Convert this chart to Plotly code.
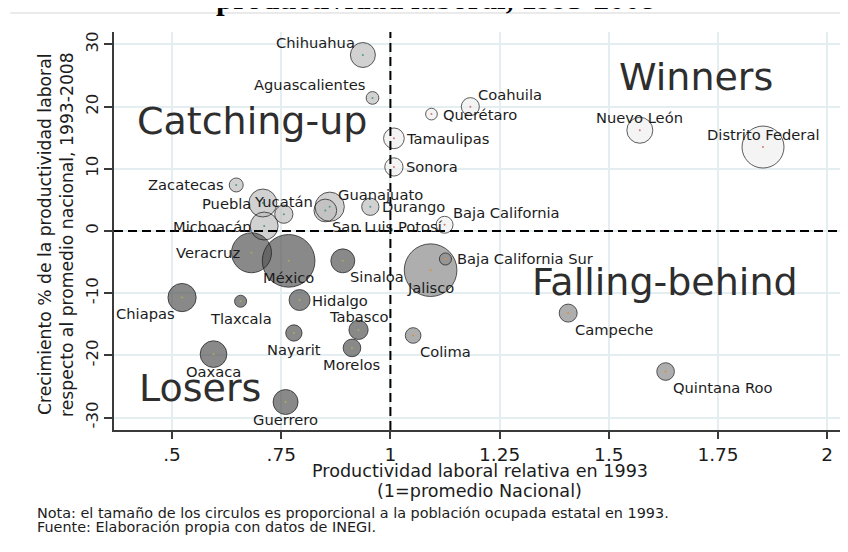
import plotly.graph_objects as go

# ---------------- data ----------------
estados = [
    "Aguascalientes", "Baja California", "Baja California Sur", "Campeche",
    "Coahuila", "Colima", "Chiapas", "Chihuahua", "Distrito Federal",
    "Durango", "Guanajuato", "Guerrero", "Hidalgo", "Jalisco", "México",
    "Michoacán", "Morelos", "Nayarit", "Nuevo León", "Oaxaca", "Puebla",
    "Querétaro", "Quintana Roo", "San Luis Potosí", "Sinaloa", "Sonora",
    "Tabasco", "Tamaulipas", "Tlaxcala", "Veracruz", "Yucatán", "Zacatecas",
]
prod_rel_1993 = [
    0.959, 1.124, 1.126, 1.407, 1.183, 1.052, 0.523, 0.937, 1.853,
    0.954, 0.861, 0.760, 0.792, 1.092, 0.767, 0.711, 0.912, 0.779,
    1.571, 0.595, 0.708, 1.094, 1.630, 0.851, 0.891, 1.008, 0.927,
    1.008, 0.657, 0.682, 0.756, 0.647,
]
crec_rel = [
    21.4, 1.0, -4.5, -13.2, 20.0, -16.8, -10.7, 28.3, 13.5,
    3.9, 3.9, -27.5, -11.1, -6.3, -4.8, 0.8, -18.8, -16.4,
    16.2, -19.8, 4.5, 18.8, -22.6, 3.3, -4.8, 10.3, -15.9,
    14.9, -11.3, -3.5, 2.7, 7.4,
]
# población ocupada 1993 (miles, estimada del tamaño de los círculos)
pob_ocupada = [
    195, 345, 175, 390, 390, 295, 960, 750, 2115,
    360, 1030, 750, 530, 3330, 3330, 940, 375, 320,
    810, 855, 940, 165, 375, 620, 690, 400, 445,
    515, 175, 1920, 400, 235,
]
# posición de la etiqueta (reloj, como en Stata)
pos_etiqueta = [
    11, 1, 3, 5, 1, 5, 7, 11, 12,
    3, 1, 6, 3, 6, 6, 9, 6, 6,
    12, 6, 9, 3, 5, 5, 5, 3, 12,
    3, 6, 9, 12, 9,
]

x_ticks = [0.5, 0.75, 1, 1.25, 1.5, 1.75, 2]
x_ticktext = [".5", ".75", "1", "1.25", "1.5", "1.75", "2"]
y_ticks = [-30, -20, -10, 0, 10, 20, 30]
y_ticktext = ["-30", "-20", "-10", "0", "10", "20", "30"]

cuadrantes = ["Winners", "Catching-up", "Falling-behind", "Losers"]

# ---------------- styling ----------------
FONT = "DejaVu Sans"
TXT = "#1c1c1c"


def color_cuadrante(x, y):
    if x >= 1 and y >= 0:
        return "#f0f0f0"
    if x < 1 and y >= 0:
        return "#bdbdbd"
    if x < 1 and y < 0:
        return "#575757"
    return "#8b8b8b"


fill_colors = [color_cuadrante(x, y) for x, y in zip(prod_rel_1993, crec_rel)]
dot_colors = []
for x, y in zip(prod_rel_1993, crec_rel):
    if x >= 1 and y >= 0:
        dot_colors.append("#d9776f")
    elif x < 1 and y >= 0:
        dot_colors.append("#4f9a8c")
    elif x < 1 and y < 0:
        dot_colors.append("#b0a85a")
    else:
        dot_colors.append("#d9913a")

SIZEREF = 2.4

fig = go.Figure()
# fills
fig.add_trace(go.Scatter(
    x=prod_rel_1993, y=crec_rel, mode="markers",
    marker=dict(size=pob_ocupada, sizemode="area", sizeref=SIZEREF,
                color=fill_colors, line=dict(width=0)),
    hoverinfo="skip",
))
# outlines (drawn after all fills so overlapping edges stay visible)
fig.add_trace(go.Scatter(
    x=prod_rel_1993, y=crec_rel, mode="markers",
    marker=dict(size=pob_ocupada, sizemode="area", sizeref=SIZEREF,
                color="rgba(0,0,0,0)", line=dict(width=1, color="#1a1a1a")),
    text=estados, hoverinfo="text",
))
# tiny centre points
fig.add_trace(go.Scatter(
    x=prod_rel_1993, y=crec_rel, mode="markers",
    marker=dict(size=2, color=dot_colors),
    hoverinfo="skip",
))

pos_map = {
    3: ("left", 10, 0),
    9: ("right", -10, 0),
    12: ("center", 0, 13),
    6: ("center", 0, -17),
    11: ("right", -6, 13),
    1: ("left", 6, 12),
    5: ("left", 5, -16),
    7: ("right", -5, -16),
}

annotations = []
for name, x, y, p in zip(estados, prod_rel_1993, crec_rel, pos_etiqueta):
    xa, dx, dy = pos_map[p]
    annotations.append(dict(
        x=x, y=y, xref="x", yref="y", text=name, showarrow=False,
        xanchor=xa, yanchor="middle", xshift=dx, yshift=dy,
        font=dict(family=FONT, size=14.7, color=TXT),
    ))

# quadrant labels
quad_pos = [(1.70, 24.7), (0.684, 17.7), (1.628, -8.25), (0.565, -25.3)]
for lab, (qx, qy) in zip(cuadrantes, quad_pos):
    annotations.append(dict(
        x=qx, y=qy, xref="x", yref="y", text=lab, showarrow=False,
        xanchor="center", yanchor="middle",
        font=dict(family=FONT, size=38, color="#2e2e2e"),
    ))

# title (cut at the top of the image)
annotations.append(dict(
    x=0.4405, y=1.0342, xref="paper", yref="paper",
    text="<b>productividad laboral, 1993-2008</b>", showarrow=False,
    xanchor="center", yanchor="bottom",
    font=dict(family="Liberation Serif", size=31, color="#000000"),
))

# axis titles
annotations.append(dict(
    x=0, y=0.5, xref="paper", yref="paper",
    text="Crecimiento % de la productividad laboral", showarrow=False,
    textangle=-90, xanchor="center", yanchor="middle",
    xshift=-69, yshift=-4,
    font=dict(family=FONT, size=17.2, color=TXT),
))
annotations.append(dict(
    x=0, y=0.5, xref="paper", yref="paper",
    text="respecto al promedio nacional, 1993-2008", showarrow=False,
    textangle=-90, xanchor="center", yanchor="middle",
    xshift=-47, yshift=-4,
    font=dict(family=FONT, size=17.2, color=TXT),
))
annotations.append(dict(
    x=0.5, y=0, xref="paper", yref="paper",
    text="Productividad laboral relativa en 1993", showarrow=False,
    xanchor="center", yanchor="middle", yshift=-41,
    font=dict(family=FONT, size=17.6, color=TXT),
))
annotations.append(dict(
    x=0.5, y=0, xref="paper", yref="paper",
    text="(1=promedio Nacional)", showarrow=False,
    xanchor="center", yanchor="middle", yshift=-61,
    font=dict(family=FONT, size=17.6, color=TXT),
))
# notes
annotations.append(dict(
    x=-0.108, y=0, xref="paper", yref="paper",
    text="Nota: el tamaño de los circulos es proporcional a la población ocupada estatal en 1993.",
    showarrow=False, xanchor="left", yanchor="middle", yshift=-83,
    font=dict(family=FONT, size=14.4, color=TXT),
))
annotations.append(dict(
    x=-0.108, y=0, xref="paper", yref="paper",
    text="Fuente: Elaboración propia con datos de INEGI.",
    showarrow=False, xanchor="left", yanchor="middle", yshift=-97,
    font=dict(family=FONT, size=14.4, color=TXT),
))

shapes = [
    dict(type="line", xref="x", yref="paper", x0=1, x1=1, y0=0, y1=1,
         line=dict(color="#000000", width=2, dash="9px,5px"), layer="above"),
    dict(type="line", xref="paper", yref="y", x0=0, x1=1, y0=0, y1=0,
         line=dict(color="#000000", width=2, dash="9px,5px"), layer="above"),
    dict(type="line", xref="paper", yref="paper", x0=-0.142, x1=1.02,
         y0=1.0477, y1=1.0477, line=dict(color="#e3e3e3", width=1.5)),
]

# the page adds an 8px body margin, so the plot area is placed 8px up/left
fig.update_layout(
    width=848, height=552,
    margin=dict(l=106, r=11, t=24, b=130),
    paper_bgcolor="white", plot_bgcolor="white",
    showlegend=False,
    annotations=annotations, shapes=shapes,
    xaxis=dict(
        range=[0.3672, 2.0407], tickvals=x_ticks, ticktext=x_ticktext,
        showgrid=True, gridcolor="#e4edf0", gridwidth=1.5, zeroline=False,
        showline=True, linecolor="#3a3a3a", linewidth=1.5,
        ticks="outside", ticklen=7, tickwidth=1.5, tickcolor="#3a3a3a",
        tickfont=dict(family=FONT, size=18.5, color=TXT),
    ),
    yaxis=dict(
        range=[-32, 32], tickvals=y_ticks, ticktext=y_ticktext, tickangle=-90,
        showgrid=True, gridcolor="#e4edf0", gridwidth=1.5, zeroline=False,
        showline=True, linecolor="#3a3a3a", linewidth=1.5,
        ticks="outside", ticklen=8, tickwidth=1.5, tickcolor="#3a3a3a",
        tickfont=dict(family=FONT, size=16.5, color=TXT),
    ),
)

fig.write_html("out.html")
